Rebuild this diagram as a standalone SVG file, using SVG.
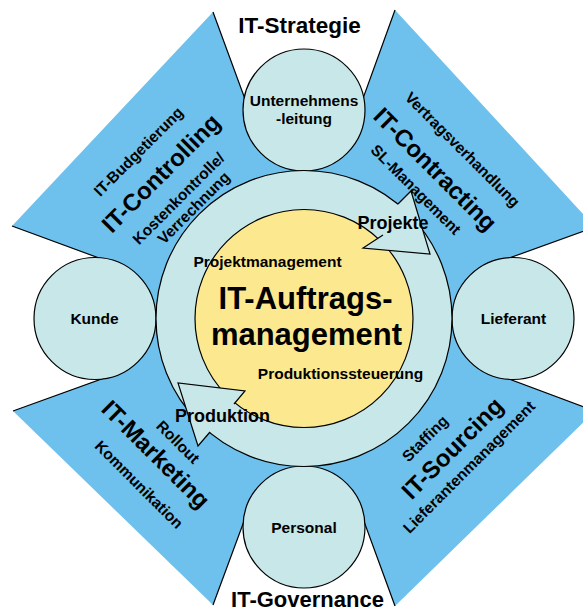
<svg xmlns="http://www.w3.org/2000/svg" width="583" height="612" viewBox="0 0 583 612">
<style>
text{font-family:"Liberation Sans",Arial,sans-serif;font-weight:bold;fill:#000;text-anchor:middle}
.s{font-size:15.5px}
.b{font-size:24px}
.h{font-size:22.5px}
.c{font-size:31px}
.a{font-size:18px}
.node{fill:#c8e7e9;stroke:#000;stroke-width:1.2}
.edge{fill:none;stroke:#000;stroke-width:1.2}
.head{fill:#c8e7e9;stroke:none}
</style>
<g id="background">
<polygon fill="#6ec1ec" points="213,12 260,140 348,140 395,10 595,227 490,265 490,372 595,411 395,606 358,505 250,505 213,605 13,411 118,373 118,265 12,226"/>
<polyline class="edge" points="213,12 260,140 348,140 395,10"/>
<polyline class="edge" points="595,227 490,265 490,372 595,411"/>
<polyline class="edge" points="395,606 358,505 250,505 213,605"/>
<polyline class="edge" points="13,411 118,373 118,265 12,226"/>
</g>
<g id="unternehmensleitung"><circle class="node" cx="304" cy="110" r="61"/><text class="s" x="304" y="106">Unternehmens</text><text class="s" x="304" y="124">-leitung</text></g>
<g id="kunde"><circle class="node" cx="95" cy="318.5" r="61"/><text class="s" x="94.5" y="324">Kunde</text></g>
<g id="lieferant"><circle class="node" cx="513" cy="318.5" r="61"/><text class="s" x="513.5" y="323.5">Lieferant</text></g>
<g id="personal"><circle class="node" cx="304" cy="527" r="61"/><text class="s" x="304" y="533">Personal</text></g>
<g id="ring"><circle class="node" cx="304" cy="318.5" r="148"/></g>
<g id="auftragsmanagement"><circle fill="#fbe88f" stroke="#000" stroke-width="1.2" cx="304" cy="318.5" r="109"/>
<text class="c" x="305.5" y="309">IT-Auftrags-</text><text class="c" x="306.5" y="345">management</text>
<text class="s" x="267.5" y="267">Projektmanagement</text>
<text class="s" x="340.5" y="378.5">Produktionssteuerung</text></g>
<g id="connectors">
<polygon class="head" points="398,204 411,191 430,254 363,248 383,235"/>
<polyline class="edge" points="398,204 411,191 430,254 363,248 383,235"/>
<polygon class="head" points="234,404 245,391 178,383 198,446 210,432"/>
<polyline class="edge" points="234,404 245,391 178,383 198,446 210,432"/>
</g>
<g id="labels">
<text class="a" x="393" y="229">Projekte</text>
<text class="a" x="222.5" y="422">Produktion</text>
<text class="h" x="299.5" y="33">IT-Strategie</text>
<text class="h" x="307.5" y="607" style="font-size:22px">IT-Governance</text>
</g>
<g id="it-controlling">
<text class="s" transform="translate(142.3,155.3) rotate(-45)">IT-Budgetierung</text>
<text class="b" transform="translate(166.8,179.1) rotate(-45)">IT-Controlling</text>
<text class="s" transform="translate(182.3,202.3) rotate(-45)">Kostenkontrolle/</text>
<text class="s" transform="translate(197.5,211.5) rotate(-45)">Verrechnung</text>
</g>
<g id="it-contracting">
<text class="s" transform="translate(458.7,153.3) rotate(45)">Vertragsverhandlung</text>
<text class="b" transform="translate(429.4,175.1) rotate(45)">IT-Contracting</text>
<text class="s" transform="translate(412.2,193.3) rotate(45)">SL-Management</text>
</g>
<g id="it-marketing">
<text class="s" transform="translate(174.2,445.8) rotate(45)">Rollout</text>
<text class="b" transform="translate(149.9,460.1) rotate(45)">IT-Marketing</text>
<text class="s" transform="translate(135.2,488.3) rotate(45)">Kommunikation</text>
</g>
<g id="it-sourcing">
<text class="s" transform="translate(428.8,442.3) rotate(-45)">Staffing</text>
<text class="b" transform="translate(458.1,454.1) rotate(-45)">IT-Sourcing</text>
<text class="s" transform="translate(472.8,470.8) rotate(-45)">Lieferantenmanagement</text>
</g>
</svg>
